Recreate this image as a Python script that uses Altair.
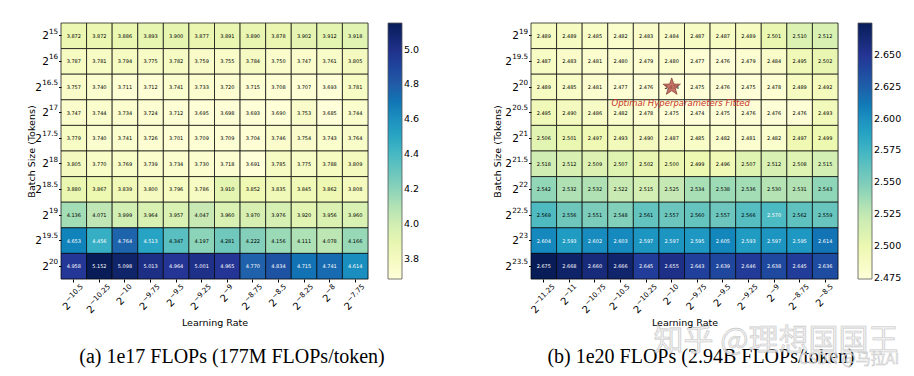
import math
import altair as alt
import pandas as pd
import numpy as np

# ---------------- data ----------------
# axis categories are the exponents of 2
a_batch = ["15", "16", "16.5", "17", "17.5", "18", "18.5", "19", "19.5", "20"]
a_lr = ["−10.5", "−10.25", "−10", "−9.75", "−9.5", "−9.25",
        "−9", "−8.75", "−8.5", "−8.25", "−8", "−7.75"]
a_loss = [
    [3.872, 3.872, 3.886, 3.893, 3.900, 3.877, 3.891, 3.890, 3.878, 3.902, 3.912, 3.918],
    [3.787, 3.781, 3.794, 3.775, 3.782, 3.759, 3.755, 3.784, 3.750, 3.747, 3.761, 3.805],
    [3.757, 3.740, 3.711, 3.712, 3.741, 3.733, 3.720, 3.715, 3.708, 3.707, 3.693, 3.781],
    [3.747, 3.744, 3.734, 3.724, 3.712, 3.695, 3.698, 3.693, 3.690, 3.753, 3.685, 3.744],
    [3.779, 3.740, 3.741, 3.726, 3.701, 3.709, 3.709, 3.704, 3.746, 3.754, 3.743, 3.764],
    [3.805, 3.770, 3.769, 3.739, 3.734, 3.730, 3.718, 3.691, 3.785, 3.775, 3.788, 3.809],
    [3.880, 3.867, 3.839, 3.800, 3.796, 3.786, 3.910, 3.852, 3.835, 3.845, 3.862, 3.808],
    [4.136, 4.071, 3.999, 3.964, 3.957, 4.047, 3.960, 3.970, 3.976, 3.920, 3.956, 3.960],
    [4.653, 4.456, 4.764, 4.513, 4.347, 4.197, 4.281, 4.222, 4.156, 4.111, 4.078, 4.166],
    [4.958, 5.152, 5.098, 5.013, 4.964, 5.001, 4.965, 4.770, 4.834, 4.715, 4.741, 4.614],
]
a_ticks = [3.8, 4.0, 4.2, 4.4, 4.6, 4.8, 5.0]
a_title = ["(a)  1e17 FLOPs (177M FLOPs/token)"]

b_batch = ["19", "19.5", "20", "20.5", "21", "21.5", "22", "22.5", "23", "23.5"]
b_lr = ["−11.25", "−11", "−10.75", "−10.5", "−10.25", "−10",
        "−9.75", "−9.5", "−9.25", "−9", "−8.75", "−8.5"]
b_loss = [
    [2.489, 2.489, 2.485, 2.482, 2.483, 2.484, 2.487, 2.487, 2.489, 2.501, 2.510, 2.512],
    [2.487, 2.483, 2.481, 2.480, 2.479, 2.480, 2.477, 2.476, 2.479, 2.484, 2.495, 2.502],
    [2.489, 2.485, 2.481, 2.477, 2.476, 2.474, 2.475, 2.476, 2.475, 2.478, 2.489, 2.492],
    [2.495, 2.490, 2.486, 2.482, 2.478, 2.475, 2.474, 2.475, 2.476, 2.476, 2.476, 2.493],
    [2.506, 2.501, 2.497, 2.493, 2.490, 2.487, 2.485, 2.482, 2.481, 2.482, 2.497, 2.499],
    [2.518, 2.512, 2.509, 2.507, 2.502, 2.500, 2.499, 2.496, 2.507, 2.512, 2.508, 2.515],
    [2.542, 2.532, 2.532, 2.522, 2.515, 2.525, 2.534, 2.538, 2.536, 2.530, 2.531, 2.543],
    [2.569, 2.556, 2.551, 2.548, 2.561, 2.557, 2.560, 2.557, 2.566, 2.570, 2.562, 2.559],
    [2.604, 2.593, 2.602, 2.603, 2.597, 2.597, 2.595, 2.605, 2.593, 2.597, 2.595, 2.614],
    [2.675, 2.668, 2.660, 2.666, 2.645, 2.655, 2.643, 2.639, 2.646, 2.638, 2.645, 2.636],
]
b_ticks = [2.475, 2.500, 2.525, 2.550, 2.575, 2.600, 2.625, 2.650]
b_title = ["(b)  1e20 FLOPs (2.94B FLOPs/token)"]
b_opt_lr = ["−10"]
b_opt_batch = ["20"]
b_opt_label = ["Optimal Hyperparameters Fitted"]

watermark = ["知乎 @理想国国王"]
watermark2 = ["CSDN @马拉AI"]

# ---------------- styling ----------------
YLGNBU = ["#ffffd9", "#edf8b1", "#c7e9b4", "#7fcdbb", "#41b6c4",
          "#1d91c0", "#225ea8", "#253494", "#081d58"]
SANS = "DejaVu Sans"
W, H = 307, 256
ADV = {".": 0.318, "−": 0.838}


def text_w(s, size):
    return sum(ADV.get(ch, 0.636) for ch in s) * size


def star_path():
    pts = []
    for k in range(10):
        r = 1.0 if k % 2 == 0 else 0.4
        ang = math.radians(-90 + 36 * k)
        pts.append(f"{r * math.cos(ang):.4f},{r * math.sin(ang):.4f}")
    return "M" + "L".join(pts) + "Z"


def y_labels(rows, y):
    """Right-aligned '2^exp' labels left of the heatmap."""
    layers = []
    ysz_b, ysz_e = 10.5, 7.2
    xr = -2.8
    df = pd.DataFrame({"batch": rows})
    layers.append(alt.Chart(df).mark_text(
        font=SANS, fontSize=ysz_e, align="right", baseline="alphabetic",
        dy=-2.2, color="black").encode(y=y, x=alt.value(xr), text="batch:N"))
    widths = [round(text_w(r, ysz_e), 2) for r in rows]
    for w in sorted(set(widths)):
        sub = pd.DataFrame({"batch": [r for r, ww in zip(rows, widths) if ww == w]})
        layers.append(alt.Chart(sub).mark_text(
            font=SANS, fontSize=ysz_b, align="right", baseline="alphabetic",
            dy=3.5, color="black").encode(
            y=y, x=alt.value(xr - 0.2 - w), text=alt.value("2")))
    return layers


def x_labels(cols, x):
    """Rotated, centred '2^exp' labels below the heatmap."""
    layers = []
    bsz, esz = 10, 7.2
    bw = 0.636 * bsz
    widths = [round(text_w(c, esz), 2) for c in cols]
    for w in sorted(set(widths)):
        sub = pd.DataFrame({"lr": [c for c, ww in zip(cols, widths) if ww == w]})
        T = bw + 0.3 + w
        half = (T / 2 + 6) * math.sqrt(0.5)
        yy = H + 4 + half
        layers.append(alt.Chart(sub).mark_text(
            font=SANS, fontSize=bsz, align="left", baseline="alphabetic",
            angle=315, dx=-T / 2, dy=4.5, color="black").encode(
            x=x, y=alt.value(yy), text=alt.value("2")))
        layers.append(alt.Chart(sub).mark_text(
            font=SANS, fontSize=esz, align="left", baseline="alphabetic",
            angle=315, dx=-T / 2 + bw + 0.3, dy=-0.5, color="black").encode(
            x=x, y=alt.value(yy), text="lr:N"))
    return layers


def caption(title, cx):
    return alt.Chart(pd.DataFrame({"t": title})).mark_text(
        font="Liberation Serif", fontSize=20, color="black", align="center",
        baseline="middle").encode(text="t:N", x=alt.value(cx), y=alt.value(334))


def panel(rows, cols, loss, ticks, fmt, title, cx, ytp, extra=None):
    df = pd.DataFrame([
        {"batch": r, "lr": c, "loss": loss[i][j]}
        for i, r in enumerate(rows) for j, c in enumerate(cols)
    ])
    lo = min(min(r) for r in loss)
    hi = max(max(r) for r in loss)
    stops = [float(v) for v in np.linspace(lo, hi, len(YLGNBU))]
    thr = lo + 0.475 * (hi - lo)

    x = alt.X("lr:O", sort=cols, title="Learning Rate",
              scale=alt.Scale(paddingInner=0, paddingOuter=0),
              axis=alt.Axis(labels=False, tickSize=3, tickColor="black",
                            domain=False, minExtent=36, maxExtent=36,
                            titleFont=SANS, titleFontSize=9.5,
                            titleFontWeight="normal", titleColor="black",
                            titlePadding=2))
    y = alt.Y("batch:O", sort=rows, title="Batch Size (Tokens)",
              scale=alt.Scale(paddingInner=0, paddingOuter=0),
              axis=alt.Axis(labels=False, tickSize=2.5, tickColor="black",
                            domain=False, minExtent=20, maxExtent=20,
                            titleFont=SANS, titleFontSize=9.5,
                            titleFontWeight="normal", titleColor="black",
                            titlePadding=ytp))
    base = alt.Chart(df)
    rect = base.mark_rect(stroke="black", strokeWidth=0.7).encode(
        x=x, y=y,
        color=alt.Color("loss:Q",
                        scale=alt.Scale(domain=stops, range=YLGNBU),
                        legend=alt.Legend(title=None, values=ticks, format=fmt,
                                          gradientLength=H, gradientThickness=14,
                                          gradientStrokeColor="#555555",
                                          gradientStrokeWidth=0.8,
                                          labelFont=SANS, labelFontSize=9.5,
                                          labelColor="black", offset=20,
                                          labelOverlap=False)))
    text = base.mark_text(font=SANS, fontSize=5.0).encode(
        x=x, y=y,
        text=alt.Text("loss:Q", format=".3f"),
        color=alt.condition(f"datum.loss > {thr:.4f}",
                            alt.value("white"), alt.value("black")))
    layers = [rect, text] + y_labels(rows, y) + x_labels(cols, x)
    layers.append(caption(title, cx))
    if extra is not None:
        layers += extra(x, y)
    return alt.layer(*layers).properties(width=W, height=H)


def b_extra(x, y):
    sdf = pd.DataFrame({"lr": b_opt_lr, "batch": b_opt_batch, "label": b_opt_label})
    star = alt.Chart(sdf).mark_point(
        shape=star_path(), size=330, filled=True, fill="#b8514c",
        stroke="#6e1c18", strokeWidth=0.8, opacity=0.8).encode(x=x, y=y)
    note = alt.Chart(sdf).mark_text(
        font=SANS, fontSize=8.5, fontStyle="italic", color="#c8332b",
        dx=9, dy=16).encode(x=x, y=y, text="label:N")
    wm = alt.Chart(pd.DataFrame({"t": watermark})).mark_text(
        font="Noto Sans CJK SC", fontSize=30, color="#ececec", stroke="#bdbdbd",
        strokeWidth=0.6, opacity=0.85).encode(
        text="t:N", x=alt.value(245), y=alt.value(318))
    wm2 = alt.Chart(pd.DataFrame({"t": watermark2})).mark_text(
        font="Noto Sans CJK SC", fontSize=15, color="#ececec", stroke="#bdbdbd",
        strokeWidth=0.5, opacity=0.85).encode(
        text="t:N", x=alt.value(318), y=alt.value(336))
    return [star, note, wm, wm2]


left = panel(a_batch, a_lr, a_loss, a_ticks, ".1f", a_title, 171, 5)
right = panel(b_batch, b_lr, b_loss, b_ticks, ".3f", b_title, 170, 9, b_extra)

chart = alt.hconcat(left, right, spacing=70).resolve_scale(
    color="independent").properties(
    padding={"left": 17, "top": 14, "right": 0, "bottom": 0}
).configure_view(strokeWidth=0).configure(background="white")

chart.save("out.html", embed_options={"renderer": "svg", "actions": False})
